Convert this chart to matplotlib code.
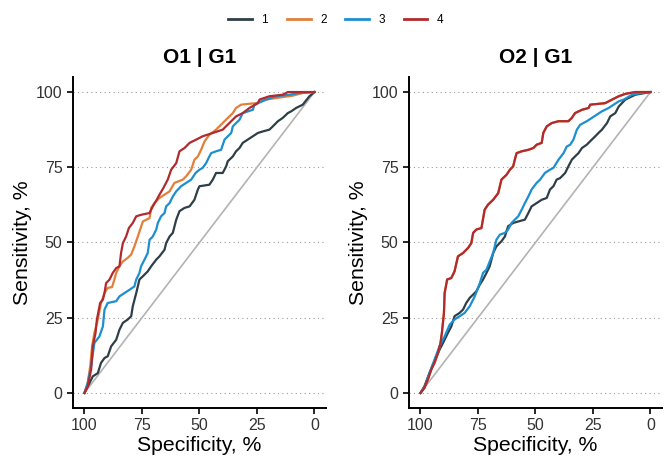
import matplotlib
matplotlib.use("Agg")
import matplotlib.pyplot as plt
from matplotlib.lines import Line2D

plt.rcParams['font.family'] = ['Liberation Sans', 'DejaVu Sans']

groups = ["1", "2", "3", "4"]
colors = ["#2E3F47", "#E27F3A", "#1C8FCF", "#B02A2E"]
panel_titles = ["O1 | G1", "O2 | G1"]

# ---- Panel O1 | G1 ----
o1_g1_spec_1 = [100, 97.8, 96.4, 94.2, 92.8, 91.3, 89.9, 88.4, 86.2, 84.8, 83.3, 81.2, 79.7, 79.0, 77.5, 76.1, 74.6, 72.5, 71.0, 68.8, 67.4, 65.2, 64.5, 63.0, 61.6, 60.1, 58.7, 56.5, 54.3, 52.2, 50.7, 50.0, 45.7, 44.2, 42.8, 39.9, 38.4, 37.7, 35.5, 34.1, 32.6, 31.2, 29.0, 26.8, 24.6, 22.5, 19.6, 18.1, 15.9, 13.8, 11.6, 10.1, 8.0, 5.1, 2.2, 0]
o1_g1_sens_1 = [0, 3.3, 5.5, 6.6, 10.0, 11.6, 12.2, 15.5, 17.7, 21.0, 23.3, 24.4, 25.5, 28.8, 33.2, 37.7, 38.8, 40.4, 42.1, 44.3, 45.4, 47.6, 49.8, 52.0, 53.2, 57.6, 60.4, 61.5, 62.0, 64.2, 67.6, 68.7, 69.2, 70.9, 73.1, 73.1, 75.3, 77.0, 78.6, 80.3, 81.4, 83.1, 84.2, 85.3, 86.4, 86.9, 87.5, 88.6, 90.3, 91.4, 93.0, 93.6, 94.7, 95.8, 98.6, 100]

o1_g1_spec_2 = [100, 98.6, 97.5, 96.7, 95.7, 94.2, 92.8, 91.3, 89.9, 88.0, 87.0, 86.2, 84.8, 83.3, 81.2, 79.7, 78.3, 76.8, 75.8, 74.6, 71.7, 71.0, 69.6, 67.4, 65.2, 63.0, 60.9, 57.2, 55.8, 53.6, 52.2, 50.7, 49.3, 47.8, 45.7, 42.8, 39.9, 37.0, 35.5, 34.1, 31.9, 28.3, 25.4, 21.0, 16.7, 9.4, 5.1, 0]
o1_g1_sens_2 = [0, 3.3, 8.9, 15.5, 19.9, 24.4, 29.9, 33.2, 34.9, 35.2, 37.7, 39.9, 42.1, 43.7, 44.9, 46.0, 48.7, 52.0, 54.3, 57.0, 58.1, 61.5, 63.1, 64.8, 65.9, 67.0, 69.8, 70.9, 72.0, 74.2, 77.5, 78.6, 80.8, 83.6, 85.8, 87.5, 89.7, 91.9, 93.0, 94.7, 95.8, 96.1, 96.3, 97.5, 98.0, 98.8, 99.7, 100]

o1_g1_spec_3 = [100, 98.6, 97.1, 95.7, 93.5, 92.0, 91.3, 89.9, 86.2, 84.8, 82.6, 80.4, 78.3, 77.5, 76.1, 75.4, 73.9, 72.5, 71.7, 70.3, 68.8, 68.1, 66.7, 65.2, 64.5, 63.0, 61.6, 60.1, 58.0, 55.8, 53.6, 51.7, 50.0, 48.6, 47.1, 45.7, 44.9, 42.8, 40.6, 39.1, 36.2, 35.5, 32.6, 31.2, 26.8, 26.1, 21.0, 16.7, 10.9, 6.5, 0]
o1_g1_sens_3 = [0, 3.3, 8.9, 16.6, 18.8, 22.1, 27.7, 29.9, 30.5, 32.1, 33.2, 34.3, 35.4, 37.7, 39.9, 42.1, 44.3, 46.5, 50.9, 52.0, 54.3, 56.5, 58.7, 59.8, 62.0, 63.1, 65.3, 67.0, 68.7, 69.8, 70.9, 73.1, 74.2, 74.8, 76.4, 78.6, 79.7, 80.3, 80.8, 84.2, 86.4, 88.6, 90.8, 93.0, 94.1, 95.8, 97.5, 98.6, 99.1, 99.7, 100]

o1_g1_spec_4 = [100, 98.6, 97.1, 96.4, 95.2, 94.6, 93.2, 92.0, 91.3, 90.6, 89.1, 87.7, 86.2, 84.8, 84.1, 83.3, 81.9, 80.7, 79.0, 77.5, 75.4, 71.7, 70.3, 68.6, 67.4, 65.7, 63.8, 62.3, 60.1, 58.7, 56.5, 54.3, 51.4, 48.6, 44.2, 39.9, 37.0, 34.1, 31.2, 28.3, 24.6, 23.9, 19.6, 13.8, 11.6, 0]
o1_g1_sens_4 = [0, 2.2, 7.8, 15.5, 19.9, 24.4, 29.9, 31.0, 33.2, 36.5, 37.7, 39.9, 41.5, 42.1, 46.5, 49.8, 52.0, 54.8, 56.5, 58.7, 59.2, 59.8, 62.0, 64.2, 65.9, 68.1, 70.9, 74.2, 76.4, 80.3, 81.4, 83.1, 84.2, 85.3, 86.4, 87.5, 89.7, 91.9, 93.0, 94.7, 96.3, 97.5, 98.6, 99.1, 100, 100]

# ---- Panel O2 | G1 ----
o2_g1_spec_1 = [100, 98.3, 96.1, 93.9, 91.7, 90.2, 88.1, 86.6, 85.2, 83.0, 81.5, 80.1, 78.6, 77.1, 75.7, 74.2, 72.8, 71.3, 69.9, 68.4, 67.0, 64.8, 63.3, 61.9, 59.7, 54.6, 53.1, 51.7, 49.5, 47.3, 45.1, 43.7, 42.2, 40.8, 39.3, 37.1, 35.7, 34.2, 32.8, 31.3, 29.8, 27.7, 25.5, 24.0, 22.6, 21.1, 18.9, 17.5, 15.3, 13.8, 10.9, 6.6, 0]
o2_g1_sens_1 = [0, 2.2, 6.6, 10.5, 14.4, 16.6, 19.9, 22.1, 25.5, 26.6, 27.7, 29.9, 31.6, 32.7, 33.8, 36.0, 37.7, 39.9, 42.1, 46.5, 48.7, 50.4, 52.0, 55.4, 56.5, 57.6, 59.8, 62.0, 63.1, 64.2, 64.8, 67.6, 68.7, 70.9, 71.4, 73.1, 75.3, 77.5, 78.6, 79.7, 81.4, 82.5, 84.2, 85.3, 86.4, 87.5, 89.7, 91.9, 93.0, 95.2, 97.5, 99.1, 100]

o2_g1_spec_3 = [100, 98.3, 96.1, 93.9, 91.7, 89.5, 87.3, 85.2, 83.0, 80.8, 78.6, 76.4, 74.2, 72.8, 71.3, 69.9, 68.4, 67.0, 65.5, 63.3, 61.9, 60.4, 59.0, 57.5, 56.0, 54.6, 53.1, 51.7, 49.5, 48.0, 45.9, 43.7, 42.2, 40.0, 37.8, 36.4, 34.9, 33.5, 32.0, 30.6, 27.7, 25.5, 23.3, 21.1, 18.2, 16.0, 13.8, 11.6, 8.0, 3.6, 0]
o2_g1_sens_3 = [0, 1.7, 6.6, 11.1, 15.5, 18.8, 22.7, 24.4, 25.5, 26.6, 28.8, 32.1, 36.5, 39.9, 41.0, 43.7, 46.5, 50.9, 52.6, 53.2, 54.3, 56.5, 57.6, 58.7, 60.9, 63.1, 65.3, 67.6, 69.8, 70.9, 73.1, 74.2, 74.8, 77.5, 79.7, 81.9, 82.5, 84.2, 87.5, 89.1, 90.3, 91.4, 92.5, 93.6, 94.7, 95.8, 96.9, 97.5, 99.1, 99.7, 100]

o2_g1_spec_4 = [100, 98.3, 96.8, 95.3, 93.9, 92.4, 91.3, 90.7, 89.8, 89.5, 88.4, 86.6, 85.2, 83.7, 81.5, 79.3, 77.9, 77.1, 75.7, 73.5, 72.1, 70.6, 68.4, 66.2, 64.8, 62.6, 61.1, 59.7, 59.0, 58.2, 56.0, 53.1, 50.9, 49.5, 47.3, 46.6, 45.1, 42.9, 40.0, 35.7, 34.2, 32.8, 29.8, 26.9, 26.2, 19.7, 16.7, 13.8, 10.9, 6.6, 0]
o2_g1_sens_4 = [0, 1.7, 4.4, 7.8, 10.0, 13.3, 16.6, 19.9, 26.6, 33.2, 37.7, 38.2, 40.4, 45.4, 46.5, 48.2, 49.8, 53.2, 54.3, 54.8, 60.9, 62.6, 64.2, 66.4, 70.9, 72.5, 74.2, 75.3, 77.5, 79.7, 80.3, 80.8, 81.4, 82.5, 83.1, 86.4, 88.6, 89.7, 90.3, 90.3, 91.4, 93.0, 94.1, 94.7, 95.8, 96.3, 97.5, 98.6, 99.4, 100, 100]

# group 2 in panel O2 coincides with group 4 (hidden beneath it)
o2_g1_spec_2 = list(o2_g1_spec_4)
o2_g1_sens_2 = list(o2_g1_sens_4)

panels = [
    [(o1_g1_spec_1, o1_g1_sens_1), (o1_g1_spec_2, o1_g1_sens_2),
     (o1_g1_spec_3, o1_g1_sens_3), (o1_g1_spec_4, o1_g1_sens_4)],
    [(o2_g1_spec_1, o2_g1_sens_1), (o2_g1_spec_2, o2_g1_sens_2),
     (o2_g1_spec_3, o2_g1_sens_3), (o2_g1_spec_4, o2_g1_sens_4)],
]

ticks = [100, 75, 50, 25, 0]
tick_labels = ["100", "75", "50", "25", "0"]

fig = plt.figure(figsize=(6.72, 4.70), dpi=100)
axes_pos = [[0.1086, 0.1319, 0.3765, 0.7043], [0.6086, 0.1319, 0.3765, 0.7043]]

for pi, (pos, series) in enumerate(zip(axes_pos, panels)):
    ax = fig.add_axes(pos)
    ax.set_xlim(105, -5)
    ax.set_ylim(-5, 105)
    for t in ticks:
        ax.axhline(t, color="#9a9a9a", lw=0.8, ls=(0, (1, 3)), zorder=0)
    ax.plot([100, 0], [0, 100], color="#b3b3b3", lw=1.2, zorder=1)
    for gi, (sx, sy) in enumerate(series):
        ax.plot(sx, sy, color=colors[gi], lw=1.6, zorder=2 + gi)
    ax.set_xticks(ticks)
    ax.set_xticklabels(tick_labels)
    ax.set_yticks(ticks)
    ax.set_yticklabels(tick_labels)
    for s in ["top", "right"]:
        ax.spines[s].set_visible(False)
    for s in ["left", "bottom"]:
        ax.spines[s].set_linewidth(1.4)
        ax.spines[s].set_color("black")
    ax.tick_params(axis="both", direction="out", length=4, width=1.2,
                   labelsize=11.5, labelcolor="#333333", color="black")
    ax.set_xlabel("Specificity, %", fontsize=15.3, labelpad=2)
    ax.set_ylabel("Sensitivity, %", fontsize=15.3, labelpad=3)
    ax.set_title(panel_titles[pi], fontsize=15, fontweight="bold", pad=10)

handles = [Line2D([0], [0], color=c, lw=2) for c in colors]
fig.legend(handles, groups, loc="upper center", bbox_to_anchor=(0.5, 0.992),
           ncol=4, frameon=False, fontsize=8.5, handlelength=2.0,
           columnspacing=1.6, handletextpad=0.8)

fig.savefig("out.png", dpi=100)
